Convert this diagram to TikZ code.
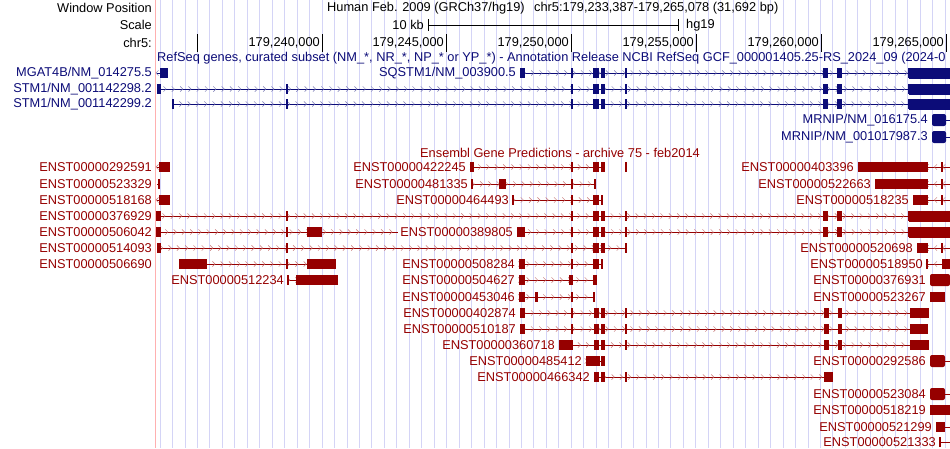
\documentclass[tikz,border=0pt]{standalone}
\usepackage{fontspec}
\setmainfont{Liberation Sans}
\usetikzlibrary{decorations.markings}
\definecolor{rsblue}{RGB}{12,12,120}
\definecolor{ensred}{RGB}{150,0,0}
\definecolor{gridc}{RGB}{212,212,246}
\definecolor{sepc}{RGB}{255,176,176}
\tikzset{
 lab/.style={font=\fontsize{12.8}{14}\selectfont, inner sep=0pt, anchor=east},
 fwd/.style={line width=0.9pt, postaction={decorate}, decoration={markings, mark=between positions 0.01 and 0.99 step 8.3pt with {\draw[line width=0.45pt,#1!55] (-1.4,-2.6)--(1.2,0)--(-1.4,2.6);}}},
 rev/.style={line width=0.9pt, postaction={decorate}, decoration={markings, mark=between positions 0.01 and 0.99 step 8.3pt with {\draw[line width=0.45pt,#1!55] (1.4,-2.6)--(-1.2,0)--(1.4,2.6);}}},
}
\newcommand\EX[4]{\fill[#1] (#2,{#4-5}) rectangle (#3,{#4+5});}
\newcommand\TK[3]{\fill[#1] ({#2-0.8},{#3-5}) rectangle ({#2+0.8},{#3+5});}
\newcommand\SQ[2]{\TK{#1}{572}{#2}\EX{#1}{593}{599}{#2}\EX{#1}{601}{605}{#2}\TK{#1}{626}{#2}}
\newcommand\SQR[2]{\SQ{#1}{#2}\EX{#1}{823}{828}{#2}\EX{#1}{837}{842}{#2}\TK{#1}{909}{#2}\fill[#1] (909,{#2-5.5}) rectangle (950,{#2+5.5});}
\begin{document}
\begin{tikzpicture}[x=1pt,y=-1pt]
\useasboundingbox (0,0) rectangle (950,448);
\fill[white] (0,0) rectangle (950,448);
\begin{scope}
\clip (156,0) rectangle (950,448);
\foreach \k in {-14,...,51} \draw[gridc,line width=0.8pt] ({322+12.46*\k},0) -- ({322+12.46*\k},448);
\end{scope}
\draw[sepc,line width=1pt] (155,0) -- (155,448);
% header
\node[lab] (wp) at (152,8) {Window Position};
\node[lab] (sc) at (152,25) {Scale};
\node[lab] (ch) at (152,43) {chr5:};
\node[lab,anchor=west] (hum) at (327,8) {Human Feb. 2009 (GRCh37/hg19)};
\node[lab,anchor=west] (pos) at (534,8) {chr5:179,233,387-179,265,078 (31,692 bp)};
\node[lab] (kb) at (424,25) {10 kb};
\node[lab,anchor=west] (hg) at (686,25) {hg19};
\draw[line width=0.8pt] (428,19) -- (428,31) (428,25) -- (678,25) (678,19) -- (678,31);
\draw[line width=0.8pt] (197,34) -- (197,52);
\foreach \x/\t in {322/179{,}240{,}000,446/179{,}245{,}000,571/179{,}250{,}000,696/179{,}255{,}000,821/179{,}260{,}000,946/179{,}265{,}000}{
 \draw[line width=0.8pt] (\x,34) -- (\x,52);
 \node[lab] at (\x-2,43) {\t};}
% RefSeq
\begin{scope}
\clip (0,0) rectangle (950,448);
\node[lab,anchor=west,rsblue] (rst) at (157,58) {RefSeq genes, curated subset (NM\_*, NR\_*, NP\_* or YP\_*) - Annotation Release NCBI RefSeq GCF\_000001405.25-RS\_2024\_09 (2024-0};
\end{scope}
\node[lab,rsblue] (mg) at (152,73) {MGAT4B/NM\_014275.5};
\draw[rev=rsblue,rsblue] (157,73) -- (168,73); \EX{rsblue}{160}{168}{73}
\node[lab,rsblue] (sq) at (516,73) {SQSTM1/NM\_003900.5};
\draw[fwd=rsblue,rsblue] (520,73) -- (950,73); \EX{rsblue}{520}{525}{73}\SQR{rsblue}{73}
\node[lab,rsblue] (s1) at (152,89) {STM1/NM\_001142298.2};
\draw[fwd=rsblue,rsblue] (157,89) -- (950,89); \EX{rsblue}{157}{161}{89}\TK{rsblue}{287}{89}\SQR{rsblue}{89}
\node[lab,rsblue] (s2) at (152,104) {STM1/NM\_001142299.2};
\draw[fwd=rsblue,rsblue] (173,104) -- (950,104); \TK{rsblue}{173}{104}\TK{rsblue}{287}{104}\SQR{rsblue}{104}
\node[lab,rsblue] (mr1) at (928,120) {MRNIP/NM\_016175.4};
\draw[rsblue,line width=0.8pt] (932,120) -- (950,120); \fill[rsblue,rounded corners=2pt] (932,114) rectangle (946,126);
\node[lab,rsblue] (mr2) at (928,137) {MRNIP/NM\_001017987.3};
\draw[rsblue,line width=0.8pt] (932,137) -- (950,137); \fill[rsblue,rounded corners=2pt] (932,131) rectangle (946,143);
% Ensembl
\node[lab,ensred,anchor=center] (et) at (560,153) {Ensembl Gene Predictions - archive 75 - feb2014};
\tikzset{E/.style={lab,ensred}}
\node[E] (e1) at (152,167) {ENST00000292591};
\draw[rev=ensred,ensred] (157,167) -- (170,167); \EX{ensred}{159}{170}{167}
\node[E] (e2) at (466,167) {ENST00000422245};
\draw[fwd=ensred,ensred] (470,167) -- (605,167); \EX{ensred}{470}{474}{167}\SQ{ensred}{167}
\node[E] (e3) at (854,167) {ENST00000403396};
\draw[rev=ensred,ensred] (927,167) -- (950,167); \EX{ensred}{858}{927}{167}\TK{ensred}{927}{167}\TK{ensred}{942}{167}
\node[E] (e4) at (152,184) {ENST00000523329};
\draw[ensred,line width=0.8pt] (157,184) -- (160,184); \TK{ensred}{159}{184}
\node[E] (e5) at (468,184) {ENST00000481335};
\draw[fwd=ensred,ensred] (472,184) -- (595,184); \TK{ensred}{472}{184}\EX{ensred}{499}{506}{184}\TK{ensred}{572}{184}\TK{ensred}{595}{184}
\node[E] (e6) at (871,184) {ENST00000522663};
\draw[rev=ensred,ensred] (927,184) -- (950,184); \EX{ensred}{875}{927}{184}\TK{ensred}{927}{184}\TK{ensred}{942}{184}
\node[E] (e7) at (152,200) {ENST00000518168};
\draw[rev=ensred,ensred] (157,200) -- (170,200); \EX{ensred}{159}{170}{200}
\node[E] (e8) at (509,200) {ENST00000464493};
\draw[fwd=ensred,ensred] (513,200) -- (603,200); \TK{ensred}{513}{200}\TK{ensred}{572}{200}\EX{ensred}{593}{599}{200}\EX{ensred}{601}{603}{200}
\node[E] (e9) at (909,200) {ENST00000518235};
\draw[rev=ensred,ensred] (927,200) -- (950,200); \EX{ensred}{913}{927}{200}\TK{ensred}{927}{200}\TK{ensred}{942}{200}
\node[E] (e10) at (152,216) {ENST00000376929};
\draw[fwd=ensred,ensred] (156,216) -- (950,216); \EX{ensred}{156}{161}{216}\TK{ensred}{287}{216}\SQR{ensred}{216}
\node[E] (e11) at (152,232) {ENST00000506042};
\draw[fwd=ensred,ensred] (156,232) -- (398,232); \EX{ensred}{156}{161}{232}\TK{ensred}{287}{232}\EX{ensred}{307}{322}{232}
\node[E] (e12) at (513,232) {ENST00000389805};
\draw[fwd=ensred,ensred] (517,232) -- (950,232); \EX{ensred}{517}{525}{232}\SQR{ensred}{232}
\node[E] (e13) at (152,248) {ENST00000514093};
\draw[fwd=ensred,ensred] (157,248) -- (626,248); \EX{ensred}{157}{161}{248}\TK{ensred}{287}{248}\SQ{ensred}{248}
\node[E] (e14) at (913,248) {ENST00000520698};
\draw[rev=ensred,ensred] (927,248) -- (950,248); \EX{ensred}{917}{927}{248}\TK{ensred}{927}{248}\TK{ensred}{942}{248}
\node[E] (e15) at (152,264) {ENST00000506690};
\draw[fwd=ensred,ensred] (179,264) -- (336,264); \EX{ensred}{179}{207}{264}\TK{ensred}{287}{264}\EX{ensred}{307}{336}{264}
\node[E] (e16) at (515,264) {ENST00000508284};
\draw[fwd=ensred,ensred] (519,264) -- (603,264); \EX{ensred}{519}{525}{264}\TK{ensred}{572}{264}\EX{ensred}{593}{599}{264}\TK{ensred}{602}{264}
\node[E] (e17) at (923,264) {ENST00000518950};
\draw[rev=ensred,ensred] (927,264) -- (950,264); \TK{ensred}{927}{264}\EX{ensred}{942}{950}{264}
\node[E] (e18) at (284,280) {ENST00000512234};
\draw[fwd=ensred,ensred] (288,280) -- (338,280); \TK{ensred}{288}{280}\EX{ensred}{296}{338}{280}
\node[E] (e19) at (515,280) {ENST00000504627};
\draw[fwd=ensred,ensred] (519,280) -- (597,280); \EX{ensred}{519}{525}{280}\EX{ensred}{569}{573}{280}\EX{ensred}{593}{597}{280}
\node[E] (e20) at (926,280) {ENST00000376931};
\fill[ensred,rounded corners=2pt] (930,274) rectangle (950,286);
\node[E] (e21) at (515,297) {ENST00000453046};
\draw[fwd=ensred,ensred] (519,297) -- (594,297); \EX{ensred}{519}{525}{297}\EX{ensred}{535}{538}{297}\TK{ensred}{572}{297}\TK{ensred}{594}{297}
\node[E] (e22) at (926,297) {ENST00000523267};
\EX{ensred}{930}{945}{297}
\foreach \yy/\nm/\st/\ee in {313/402874/520/929,329/510187/520/928,345/360718/559/929}{
 \ifnum\st=559 \node[E] at (555,\yy) {ENST00000\nm}; \else \node[E] at (516,\yy) {ENST00000\nm}; \fi
 \draw[fwd=ensred,ensred] (\st,\yy) -- (\ee,\yy);
 \ifnum\st=559 \EX{ensred}{559}{573}{\yy} \else \EX{ensred}{520}{525}{\yy}\TK{ensred}{572}{\yy} \fi
 \EX{ensred}{594}{599}{\yy}\EX{ensred}{601}{605}{\yy}\TK{ensred}{626}{\yy}\EX{ensred}{824}{829}{\yy}\EX{ensred}{838}{842}{\yy}\EX{ensred}{910}{\ee}{\yy}}
\node[E] (e26) at (582,361) {ENST00000485412};
\draw[fwd=ensred,ensred] (586,361) -- (605,361); \EX{ensred}{586}{600}{361}\EX{ensred}{601}{605}{361}
\node[E] (e27) at (926,361) {ENST00000292586};
\draw[ensred,line width=0.8pt] (945,361) -- (950,361); \fill[ensred,rounded corners=2pt] (930,355) rectangle (945,367);
\node[E] (e28) at (590,377) {ENST00000466342};
\draw[fwd=ensred,ensred] (594,377) -- (833,377); \EX{ensred}{594}{599}{377}\EX{ensred}{601}{605}{377}\TK{ensred}{626}{377}\EX{ensred}{824}{833}{377}
\node[E] (e29) at (926,394) {ENST00000523084};
\draw[ensred,line width=0.8pt] (945,394) -- (950,394); \fill[ensred,rounded corners=2pt] (930,388) rectangle (945,400);
\node[E] (e30) at (926,410) {ENST00000518219};
\EX{ensred}{930}{950}{410}
\node[E] (e31) at (932,427) {ENST00000521299};
\draw[ensred,line width=0.8pt] (945,427) -- (950,427); \EX{ensred}{936}{945}{427}
\node[E] (e32) at (936,442) {ENST00000521333};
\draw[ensred,line width=0.8pt] (940,442) -- (950,442); \TK{ensred}{940}{442}
\end{tikzpicture}
\end{document}
